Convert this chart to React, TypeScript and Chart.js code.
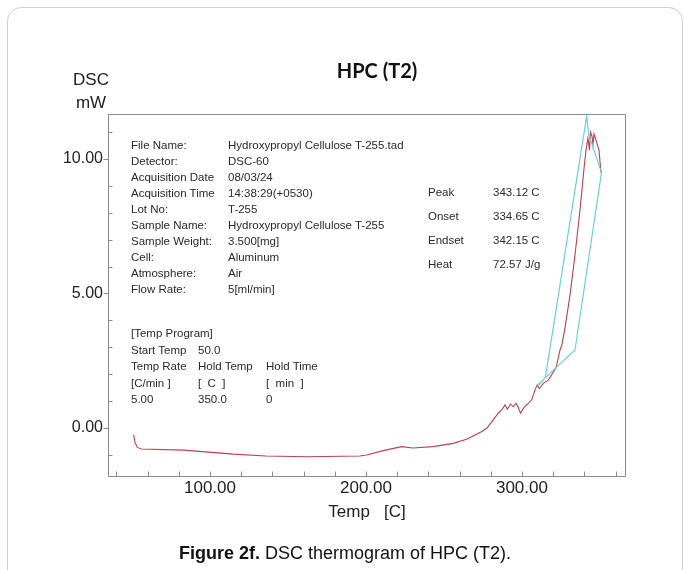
import React, { useEffect, useRef } from 'react';
import { Chart, registerables } from 'chart.js';

Chart.register(...registerables);

// Main DSC trace (red)
const redTemps = [51, 52, 53.5, 56, 83, 115, 136, 162, 196, 200.4, 211, 222.9, 230, 243, 256, 264.5, 274, 277.4, 280.6, 284.8, 287, 289.1, 290.6, 292.7, 294.4, 296.2, 297.6, 299.1, 300.8, 304, 306.2, 308.3, 309.8, 311.1, 313.7, 316.9, 321.8, 324.4, 325.6, 327.6, 330.8, 334, 337.2, 339.7, 341, 342.3, 343.3, 343.9, 344.9, 345.5, 346.2, 347.4, 349.4, 350.6];
const redValues = [-0.25, -0.55, -0.72, -0.78, -0.82, -0.97, -1.04, -1.07, -1.04, -1.0, -0.84, -0.69, -0.74, -0.69, -0.57, -0.42, -0.14, -0.01, 0.23, 0.55, 0.67, 0.86, 0.7, 0.89, 0.79, 0.92, 0.77, 0.55, 0.73, 0.92, 1.04, 1.41, 1.6, 1.47, 1.66, 1.78, 2.23, 2.9, 3.09, 3.72, 4.94, 6.43, 8.1, 9.6, 10.3, 10.78, 10.33, 11.0, 10.85, 10.52, 10.93, 10.7, 10.33, 9.5];

// Secondary trace (cyan) near the peak
const cyanTemps = [309.5, 315, 341.5, 342.8, 351, 334, 310.5];
const cyanValues = [1.5, 1.88, 11.6, 10.9, 9.5, 2.9, 1.62];

// Axes
const xMin = 34.6;
const xMax = 366.7;
const xStep = 20;
const xLabelEvery = 100;
const yMin = -1.82;
const yMax = 11.67;
const yStep = 1;
const yLabelEvery = 5;

const chartTitle = 'HPC (T2)';
const yAxisTitle = ['DSC', 'mW'];
const xAxisTitle = 'Temp   [C]';

const infoLabels = ['File Name:', 'Detector:', 'Acquisition Date', 'Acquisition Time', 'Lot No:', 'Sample Name:', 'Sample Weight:', 'Cell:', 'Atmosphere:', 'Flow Rate:'];
const infoValues = ['Hydroxypropyl Cellulose T-255.tad', 'DSC-60', '08/03/24', '14:38:29(+0530)', 'T-255', 'Hydroxypropyl Cellulose T-255', '3.500[mg]', 'Aluminum', 'Air', '5[ml/min]'];

const programRows = [
  ['[Temp Program]'],
  ['Start Temp', '50.0'],
  ['Temp Rate', 'Hold Temp', 'Hold Time'],
  ['[C/min ]', '[  C  ]', '[  min  ]'],
  ['5.00', '350.0', '0'],
];

const peakLabels = ['Peak', 'Onset', 'Endset', 'Heat'];
const peakValues = ['343.12 C', '334.65 C', '342.15 C', '72.57 J/g'];

const captionBold = 'Figure 2f.';
const captionText = ' DSC thermogram of HPC (T2).';

const FONT = "'Liberation Sans', Arial, Helvetica, sans-serif";

const framePlugin = {
  id: 'frameTicks',
  afterDraw(chart: any) {
    const { ctx, chartArea: a, scales } = chart;
    const xs = scales.x;
    const ys = scales.y;
    ctx.save();
    ctx.strokeStyle = '#8a8a8a';
    ctx.lineWidth = 1;
    ctx.beginPath();
    const L = Math.round(a.left) + 0.5;
    const R = Math.round(a.right) - 0.5;
    const T = Math.round(a.top) + 0.5;
    const B = Math.round(a.bottom) - 0.5;
    ctx.moveTo(L, T); ctx.lineTo(R, T); ctx.lineTo(R, B); ctx.lineTo(L, B); ctx.closePath();
    xs.ticks.forEach((t: any) => {
      const p = Math.round(xs.getPixelForValue(t.value)) + 0.5;
      ctx.moveTo(p, B); ctx.lineTo(p, B - 5);
    });
    ys.ticks.forEach((t: any) => {
      const p = Math.round(ys.getPixelForValue(t.value)) + 0.5;
      if (Math.abs(t.value % yLabelEvery) < 1e-9) {
        ctx.moveTo(L - 5, p); ctx.lineTo(L, p);
      } else {
        ctx.moveTo(L, p); ctx.lineTo(L + 4, p);
      }
    });
    ctx.stroke();
    ctx.restore();
  },
};

function ChartCanvas() {
  const ref = useRef<HTMLCanvasElement>(null);
  useEffect(() => {
    if (!ref.current) return;
    const chart = new Chart(ref.current, {
      type: 'scatter',
      data: {
        datasets: [
          {
            label: 'Cyan',
            data: cyanTemps.map((t, i) => ({ x: t, y: cyanValues[i] })),
            showLine: true,
            borderColor: 'rgb(110, 206, 222)',
            borderWidth: 1.2,
            pointRadius: 0,
            tension: 0,
          },
          {
            label: 'DSC',
            data: redTemps.map((t, i) => ({ x: t, y: redValues[i] })),
            showLine: true,
            borderColor: 'rgb(186, 66, 78)',
            borderWidth: 1.1,
            pointRadius: 0,
            tension: 0,
          },
        ],
      },
      options: {
        animation: false,
        responsive: false,
        devicePixelRatio: 1,
        layout: { padding: { left: 0, top: 114, right: 57, bottom: 0 } },
        plugins: { legend: { display: false }, tooltip: { enabled: false }, title: { display: false } },
        scales: {
          x: {
            type: 'linear',
            min: xMin,
            max: xMax,
            grid: { display: false, drawTicks: false },
            border: { display: false },
            ticks: {
              stepSize: xStep,
              includeBounds: false,
              autoSkip: false,
              maxRotation: 0,
              padding: 1,
              color: '#222',
              font: { family: FONT, size: 17 },
              callback: (v: any) => (Math.abs(Number(v) % xLabelEvery) < 1e-9 ? Number(v).toFixed(2) : ''),
            },
            title: {
              display: true,
              text: xAxisTitle,
              color: '#222',
              font: { family: FONT, size: 17 },
              padding: { top: 4, bottom: 47 },
            },
            afterFit: (s: any) => { s.height = 93; },
          },
          y: {
            type: 'linear',
            min: yMin,
            max: yMax,
            grid: { display: false, drawTicks: false },
            border: { display: false },
            ticks: {
              stepSize: yStep,
              includeBounds: false,
              autoSkip: false,
              padding: 5,
              color: '#222',
              font: { family: FONT, size: 16 },
              callback: (v: any) => (Math.abs(Number(v) % yLabelEvery) < 1e-9 ? Number(v).toFixed(2) : ''),
            },
            afterFit: (s: any) => { s.width = 108; },
          },
        },
      },
      plugins: [framePlugin],
    });
    return () => chart.destroy();
  }, []);
  return <canvas ref={ref} width={683} height={570} style={{ position: 'absolute', left: 0, top: 0, width: 683, height: 570 }} />;
}

const textStyle: React.CSSProperties = {
  position: 'absolute',
  fontFamily: FONT,
  fontSize: '11.5px',
  lineHeight: '16px',
  color: '#2a2a2a',
  whiteSpace: 'pre',
};

export default function App() {
  return (
    <div style={{ position: 'absolute', left: 0, top: 0, width: 683, height: 570, overflow: 'hidden', background: '#fff' }}>
      <div style={{ position: 'absolute', left: 7, top: 7, width: 676, height: 640, boxSizing: 'border-box', border: '1px solid #cfcfcf', borderRadius: 14 }} />
      <ChartCanvas />
      <div style={{ position: 'absolute', left: 277, top: 60, width: 200, textAlign: 'center', fontFamily: "Lato, 'Open Sans', sans-serif", fontWeight: 700, fontSize: 20, lineHeight: '20px', color: '#111' }}>{chartTitle}</div>
      <div style={{ position: 'absolute', left: 61, top: 68, width: 60, textAlign: 'center', fontFamily: FONT, fontSize: 17, lineHeight: '23px', color: '#222' }}>
        {yAxisTitle.map((t) => (<div key={t}>{t}</div>))}
      </div>
      {infoLabels.map((l, i) => (
        <React.Fragment key={l}>
          <div style={{ ...textStyle, left: 131, top: 137 + i * 16 }}>{l}</div>
          <div style={{ ...textStyle, left: 228, top: 137 + i * 16 }}>{infoValues[i]}</div>
        </React.Fragment>
      ))}
      {programRows.map((row, i) => (
        <React.Fragment key={i}>
          {row.map((cell, j) => (
            <div key={j} style={{ ...textStyle, left: [131, 198, 266][j], top: 325 + i * 16.5 }}>{cell}</div>
          ))}
        </React.Fragment>
      ))}
      {peakLabels.map((l, i) => (
        <React.Fragment key={l}>
          <div style={{ ...textStyle, left: 428, top: 184 + i * 24 }}>{l}</div>
          <div style={{ ...textStyle, left: 493, top: 184 + i * 24 }}>{peakValues[i]}</div>
        </React.Fragment>
      ))}
      <div style={{ position: 'absolute', left: 7, top: 542, width: 676, textAlign: 'center', fontFamily: FONT, fontSize: 18, lineHeight: '22px', color: '#111', whiteSpace: 'pre' }}>
        <b>{captionBold}</b>{captionText}
      </div>
    </div>
  );
}
